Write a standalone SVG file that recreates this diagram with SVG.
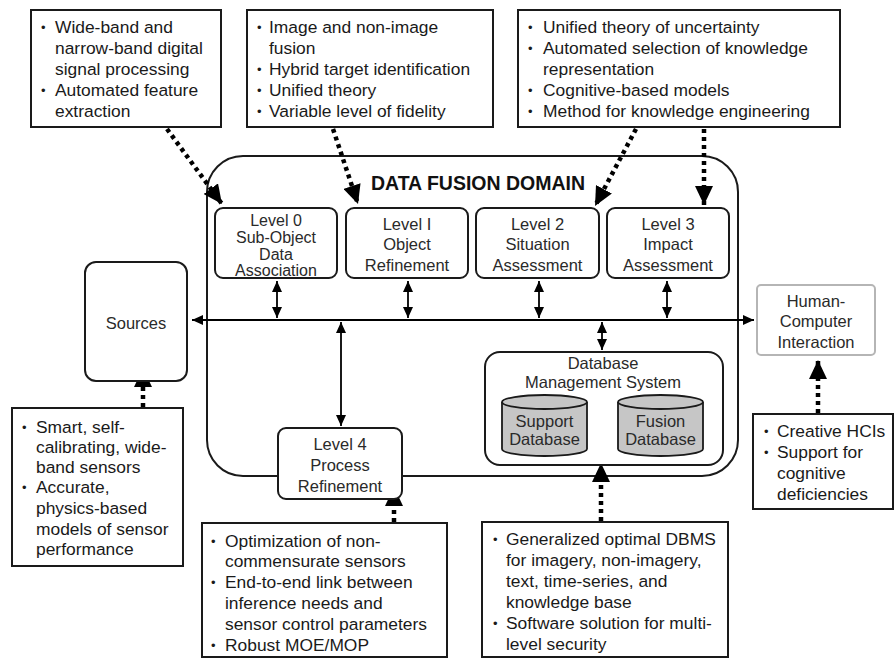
<svg xmlns="http://www.w3.org/2000/svg" width="896" height="660" viewBox="0 0 896 660">
<style>
text{font-family:"Liberation Sans",Arial,sans-serif;}
.b{fill:#fff;stroke:#1a1a1a;stroke-width:2;}
.lv{fill:#fff;stroke:#1a1a1a;stroke-width:2;}
.t{font-size:17.4px;fill:#1a1a1a;}
.lt{font-size:16.5px;fill:#2a2a2a;text-anchor:middle;}
.l0{font-size:16px;}
.bu{font-size:13px;}
.dot{fill:none;stroke:#000;stroke-width:4.5;stroke-dasharray:4 4;marker-end:url(#big);}
.sol{fill:none;stroke:#000;stroke-width:1.8;marker-start:url(#sm);marker-end:url(#sm);}
.cyl{fill:#c6c6c6;stroke:#1a1a1a;stroke-width:1.8;}
</style>
<defs>
<marker id="big" markerUnits="userSpaceOnUse" markerWidth="20" markerHeight="18" refX="19" refY="9" orient="auto"><path d="M0,0 L19,9 L0,18 z" fill="#000"/></marker>
<marker id="sm" markerUnits="userSpaceOnUse" markerWidth="12" markerHeight="10" refX="11" refY="5" orient="auto-start-reverse"><path d="M0,0 L11,5 L0,10 z" fill="#000"/></marker>
</defs>
<rect width="896" height="660" fill="#fff"/>

<g id="domain">
<rect x="207" y="156" width="531" height="320" rx="36" ry="36" fill="none" stroke="#1a1a1a" stroke-width="2"/>
<text x="478" y="190" font-size="19.5" font-weight="bold" text-anchor="middle" fill="#111">DATA FUSION DOMAIN</text>
</g>

<g id="connectors">
<line class="sol" x1="192" y1="320" x2="754" y2="320"/>
<line class="sol" x1="277" y1="281" x2="277" y2="318"/>
<line class="sol" x1="408" y1="281" x2="408" y2="318"/>
<line class="sol" x1="539" y1="281" x2="539" y2="318"/>
<line class="sol" x1="667" y1="281" x2="667" y2="318"/>
<line class="sol" x1="341" y1="322" x2="341" y2="426"/>
<line class="sol" x1="602" y1="322" x2="602" y2="350"/>
<line class="dot" x1="167" y1="129" x2="222" y2="204"/>
<line class="dot" x1="333" y1="129" x2="358" y2="204"/>
<line class="dot" x1="636" y1="129" x2="595" y2="206"/>
<line class="dot" x1="704" y1="129" x2="704" y2="205"/>
<line class="dot" x1="143" y1="407" x2="143" y2="368"/>
<line class="dot" x1="394" y1="522" x2="394" y2="487"/>
<line class="dot" x1="601" y1="521" x2="601" y2="463"/>
<line class="dot" x1="818" y1="413" x2="818" y2="360"/>
</g>

<g id="box-top1">
<rect class="b" x="31" y="10" width="190" height="117"/>
<text class="t"><tspan class="bu" x="41" y="32">•</tspan><tspan x="55" y="33">Wide-band and</tspan><tspan x="55" y="54">narrow-band digital</tspan><tspan x="55" y="75">signal processing</tspan><tspan class="bu" x="41" y="95">•</tspan><tspan x="55" y="96">Automated feature</tspan><tspan x="55" y="117">extraction</tspan></text>
</g>
<g id="box-top2">
<rect class="b" x="247" y="10" width="246" height="117"/>
<text class="t"><tspan class="bu" x="257" y="32">•</tspan><tspan x="269" y="33">Image and non-image</tspan><tspan x="269" y="54">fusion</tspan><tspan class="bu" x="257" y="74">•</tspan><tspan x="269" y="75">Hybrid target identification</tspan><tspan class="bu" x="257" y="95">•</tspan><tspan x="269" y="96">Unified theory</tspan><tspan class="bu" x="257" y="116">•</tspan><tspan x="269" y="117">Variable level of fidelity</tspan></text>
</g>
<g id="box-top3">
<rect class="b" x="518" y="10" width="322" height="117"/>
<text class="t"><tspan class="bu" x="528" y="32">•</tspan><tspan x="543" y="33">Unified theory of uncertainty</tspan><tspan class="bu" x="528" y="53">•</tspan><tspan x="543" y="54">Automated selection of knowledge</tspan><tspan x="543" y="75">representation</tspan><tspan class="bu" x="528" y="95">•</tspan><tspan x="543" y="96">Cognitive-based models</tspan><tspan class="bu" x="528" y="116">•</tspan><tspan x="543" y="117">Method for knowledge engineering</tspan></text>
</g>

<g id="level0">
<rect class="lv" x="215" y="208" width="122" height="70" rx="8"/>
<text class="lt l0"><tspan x="276" y="226">Level 0</tspan><tspan x="276" y="243">Sub-Object</tspan><tspan x="276" y="259.5">Data</tspan><tspan x="276" y="276">Association</tspan></text>
</g>
<g id="level1">
<rect class="lv" x="346" y="208" width="122" height="70" rx="8"/>
<text class="lt"><tspan x="407" y="230">Level I</tspan><tspan x="407" y="250">Object</tspan><tspan x="407" y="271">Refinement</tspan></text>
</g>
<g id="level2">
<rect class="lv" x="476" y="208" width="123" height="70" rx="8"/>
<text class="lt"><tspan x="537.5" y="230">Level 2</tspan><tspan x="537.5" y="250">Situation</tspan><tspan x="537.5" y="271">Assessment</tspan></text>
</g>
<g id="level3">
<rect class="lv" x="607" y="208" width="122" height="70" rx="8"/>
<text class="lt"><tspan x="668" y="230">Level 3</tspan><tspan x="668" y="250">Impact</tspan><tspan x="668" y="271">Assessment</tspan></text>
</g>
<g id="level4">
<rect class="lv" x="278" y="428" width="124" height="71" rx="8"/>
<text class="lt"><tspan x="340" y="450">Level 4</tspan><tspan x="340" y="471">Process</tspan><tspan x="340" y="492">Refinement</tspan></text>
</g>

<g id="sources">
<rect class="lv" x="85" y="262" width="102" height="119" rx="11"/>
<text class="lt" x="136" y="329">Sources</text>
</g>

<g id="hci">
<rect x="757" y="285" width="118" height="70" rx="4" fill="#fff" stroke="#b5b5b5" stroke-width="2"/>
<text class="lt" fill="#333"><tspan x="816" y="307">Human-</tspan><tspan x="816" y="327">Computer</tspan><tspan x="816" y="348">Interaction</tspan></text>
</g>

<g id="dbms">
<rect class="lv" x="485" y="352" width="238" height="113" rx="15"/>
<text class="lt"><tspan x="603" y="369">Database</tspan><tspan x="603" y="388">Management System</tspan></text>
<path class="cyl" d="M502,402 L502,449 A42.5,7 0 0 0 587,449 L587,402"/>
<ellipse class="cyl" cx="544.5" cy="402" rx="42.5" ry="7"/>
<text class="lt"><tspan x="544.5" y="427">Support</tspan><tspan x="544.5" y="445">Database</tspan></text>
<path class="cyl" d="M618,402 L618,449 A42.5,7 0 0 0 703,449 L703,402"/>
<ellipse class="cyl" cx="660.5" cy="402" rx="42.5" ry="7"/>
<text class="lt"><tspan x="660.5" y="427">Fusion</tspan><tspan x="660.5" y="445">Database</tspan></text>
</g>

<g id="box-sources">
<rect class="b" x="12" y="408" width="171" height="158"/>
<text class="t"><tspan class="bu" x="22" y="432">•</tspan><tspan x="36" y="433">Smart, self-</tspan><tspan x="36" y="453">calibrating, wide-</tspan><tspan x="36" y="473">band sensors</tspan><tspan class="bu" x="22" y="492">•</tspan><tspan x="36" y="493">Accurate,</tspan><tspan x="36" y="514">physics-based</tspan><tspan x="36" y="535">models of sensor</tspan><tspan x="36" y="555">performance</tspan></text>
</g>
<g id="box-level4">
<rect class="b" x="202" y="523" width="245" height="134"/>
<text class="t"><tspan class="bu" x="211" y="546">•</tspan><tspan x="225" y="547">Optimization of non-</tspan><tspan x="225" y="567">commensurate sensors</tspan><tspan class="bu" x="211" y="587">•</tspan><tspan x="225" y="588">End-to-end link between</tspan><tspan x="225" y="609">inference needs and</tspan><tspan x="225" y="630">sensor control parameters</tspan><tspan class="bu" x="211" y="650">•</tspan><tspan x="225" y="651">Robust MOE/MOP</tspan></text>
</g>
<g id="box-dbms">
<rect class="b" x="482" y="522" width="246" height="135"/>
<text class="t"><tspan class="bu" x="493" y="544">•</tspan><tspan x="506" y="545">Generalized optimal DBMS</tspan><tspan x="506" y="566">for imagery, non-imagery,</tspan><tspan x="506" y="587">text, time-series, and</tspan><tspan x="506" y="608">knowledge base</tspan><tspan class="bu" x="493" y="628">•</tspan><tspan x="506" y="629">Software solution for multi-</tspan><tspan x="506" y="650">level security</tspan></text>
</g>
<g id="box-hci">
<rect class="b" x="753" y="414" width="140" height="95"/>
<text class="t"><tspan class="bu" x="764" y="436">•</tspan><tspan x="777" y="437">Creative HCIs</tspan><tspan class="bu" x="764" y="457">•</tspan><tspan x="777" y="458">Support for</tspan><tspan x="777" y="479">cognitive</tspan><tspan x="777" y="500">deficiencies</tspan></text>
</g>
</svg>
